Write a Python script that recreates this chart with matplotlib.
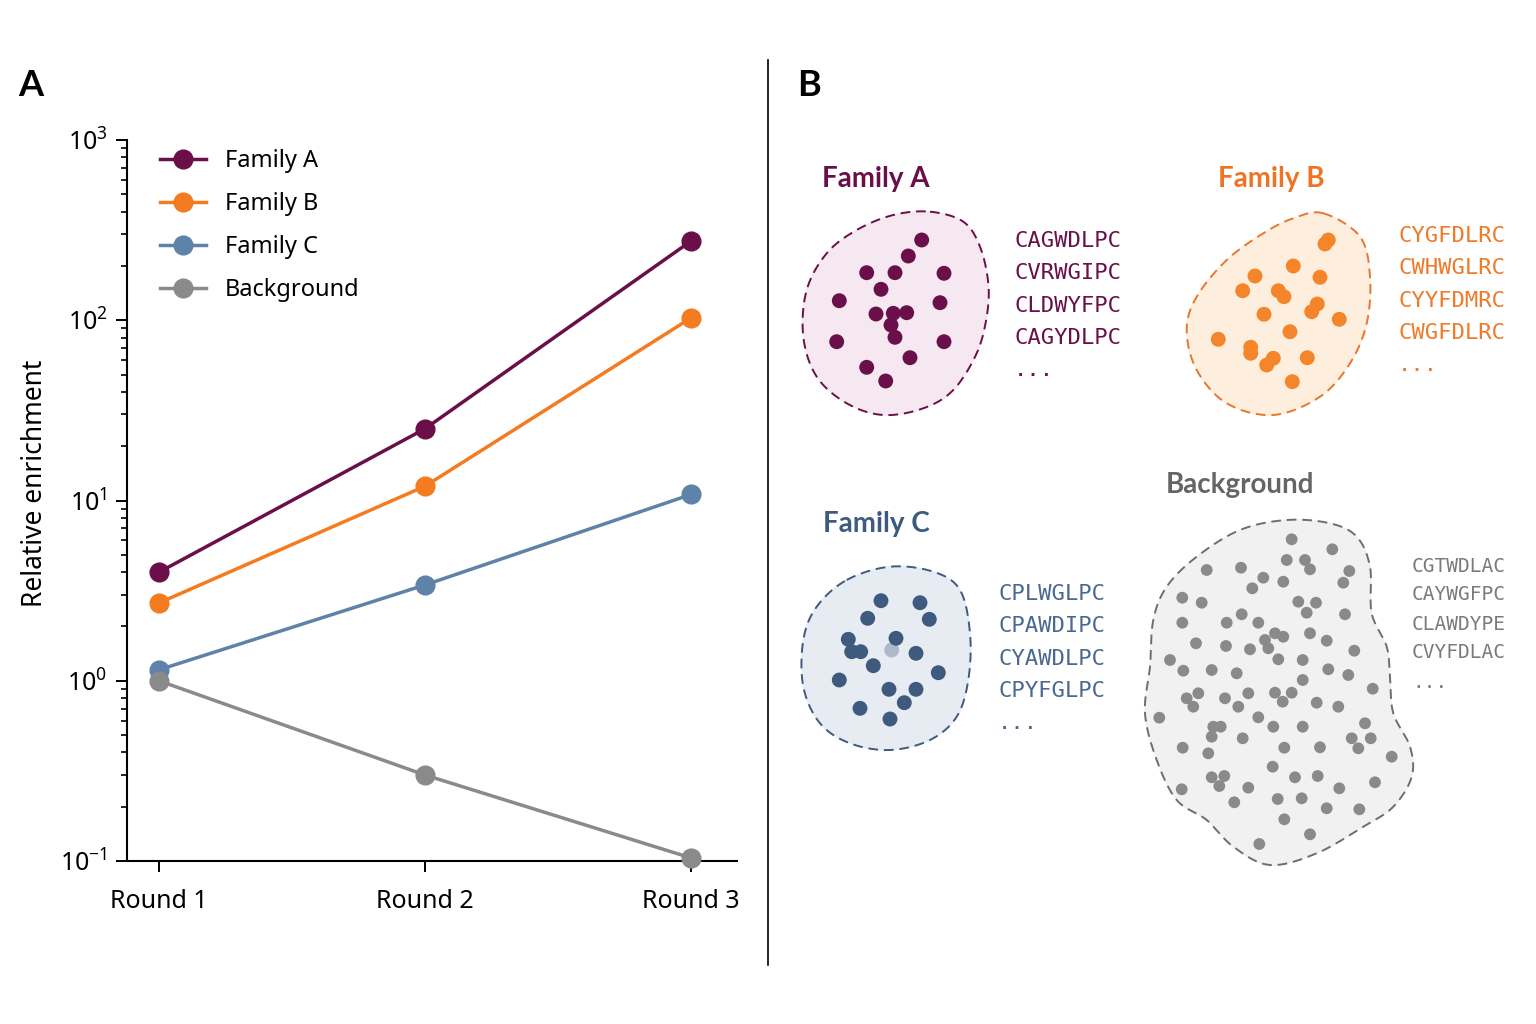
import numpy as np
import matplotlib
matplotlib.use("Agg")
import matplotlib.pyplot as plt
from matplotlib.lines import Line2D

plt.rcParams['font.family'] = ['Noto Sans', 'DejaVu Sans']
plt.rcParams['mathtext.fontset'] = 'custom'
plt.rcParams['mathtext.rm'] = 'Noto Sans'
plt.rcParams['mathtext.it'] = 'Noto Sans'
BOLD_FAMILY = ['Lato', 'DejaVu Sans']

# ---------------- Panel A data ----------------
rounds = ["Round 1", "Round 2", "Round 3"]
series_names = ["Family A", "Family B", "Family C", "Background"]
family_a = [4.0, 25.0, 275.0]
family_b = [2.7, 12.0, 103.0]
family_c = [1.15, 3.4, 10.8]
background = [1.0, 0.30, 0.104]

col_a = '#6a0f49'
col_b = '#f47b20'
col_c = '#5f82a8'
col_bg = '#8a8a8a'

# ---------------- Panel B data (positions in panel pixel space) ----------------
seqs_a = ["CAGWDLPC", "CVRWGIPC", "CLDWYFPC", "CAGYDLPC", "..."]
seqs_b = ["CYGFDLRC", "CWHWGLRC", "CYYFDMRC", "CWGFDLRC", "..."]
seqs_c = ["CPLWGLPC", "CPAWDIPC", "CYAWDLPC", "CPYFGLPC", "..."]
seqs_bg = ["CGTWDLAC", "CAYWGFPC", "CLAWDYPE", "CVYFDLAC", "..."]

dots_a_x = [921.7, 908.3, 866.7, 895, 944, 881, 839.3, 940, 876, 893.3, 906.7, 891, 895, 836.7, 944, 910, 866.7, 885.7]
dots_a_y = [240, 256, 272.7, 272.7, 273.3, 289.3, 300.7, 302.7, 314, 313.3, 312.7, 325, 337.3, 341.7, 341.7, 357.7, 367.3, 381]

dots_b_x = [1328.3, 1325, 1293.3, 1255, 1320, 1242.7, 1278.3, 1284, 1317.3, 1311.7, 1264, 1339.3, 1290, 1218.3, 1250.7, 1250.7, 1273.3, 1266.7, 1307.3, 1292.3]
dots_b_y = [240, 244, 266, 276, 277.3, 290.7, 290.7, 296.7, 304, 311.7, 314.3, 319.3, 331.7, 339.3, 347.3, 353.3, 358.3, 365, 357.7, 381.7]

dots_c_x = [881, 920, 867.7, 929.3, 848.3, 896, 851.7, 860.7, 916, 873.3, 938.3, 839.3, 889, 916, 904.3, 860, 890]
dots_c_y = [600.7, 602.7, 618.3, 619.3, 639.3, 638.3, 651.7, 651.7, 653.3, 665.7, 672.7, 680, 689.3, 689.3, 702.7, 708.3, 719]
faint_c_x = [891.7]
faint_c_y = [650]

dots_bg_x = [1291.7, 1332.3, 1286.7, 1305, 1310, 1349.3, 1343.3, 1206.7, 1241, 1263.3, 1252.3, 1283.3,
             1182.3, 1201.7, 1298.3, 1306.7, 1316, 1241.7, 1226.7, 1258.3, 1345, 1182.3, 1275, 1283.3,
             1265, 1268.3, 1310, 1326.7, 1196, 1226, 1250, 1354.3, 1170, 1183.3, 1211.7, 1236.7,
             1278.3, 1302.7, 1328.3, 1348.3, 1302.7, 1372.7, 1186.7, 1198.3, 1193.3, 1225, 1248.3,
             1238.3, 1275, 1282.7, 1291.7, 1316.7, 1338.3, 1159.3, 1213.3, 1220.7, 1211.7, 1258.3,
             1273.3, 1302.7, 1365, 1351.7, 1358.3, 1370.7, 1242.7, 1182.7, 1208.3, 1284.3, 1320,
             1391.7, 1272.7, 1211.7, 1224.3, 1219.3, 1295, 1317.7, 1181.7, 1248.3, 1339.3, 1375,
             1234.3, 1277.7, 1301.7, 1326.7, 1359.3, 1284.3, 1310, 1259.3]
dots_bg_y = [539.3, 549.3, 560, 560, 569.3, 571, 582.7, 570, 567.7, 577.7, 588.3, 581.7,
             597.7, 602.7, 601.7, 612.7, 602.7, 614.3, 622.7, 622.7, 614.3, 622.7, 633.3, 636.7,
             640, 648.3, 633.3, 640.7, 643.3, 646, 649.3, 650.7, 660, 670.7, 670, 673.3,
             659.3, 660, 669.3, 675, 680, 688.7, 698.3, 693.3, 706.7, 698.3, 693.3,
             706.7, 692.7, 701.7, 692.7, 702.7, 706.7, 717.7, 726.7, 726.7, 736.7, 717.3,
             726.7, 726.7, 723.3, 738.3, 748.3, 738.3, 738.3, 747.7, 753.3, 747.7, 747.3,
             756.7, 766.7, 777.3, 776, 786, 777.3, 776, 789.3, 787.7, 788.3, 782.3,
             802.3, 799, 798.3, 808.3, 809.3, 819.3, 834.3, 844]

blob_a_x = [930, 963.3, 980, 988.3, 986.7, 976.7, 953.3, 923.3, 883.3, 846.7, 816.7, 803.3, 806.7, 826.7, 856.7, 893.3]
blob_a_y = [211.7, 221.7, 246.7, 283.3, 316.7, 353.3, 390, 408.3, 415, 403.3, 376.7, 336.7, 290, 253.3, 230, 215]
blob_b_x = [1323.3, 1360, 1370, 1366.7, 1350, 1320, 1273.3, 1226.7, 1196.7, 1186.7, 1196.7, 1226.7, 1263.3, 1293.3]
blob_b_y = [213.3, 236.7, 276.7, 323.3, 363.3, 396.7, 415, 403.3, 370, 330, 296.7, 260, 233.3, 218.3]
blob_c_x = [846.7, 890, 933.3, 960, 970, 968.3, 956.7, 930, 890, 850, 820, 803.3, 803.3, 816.7]
blob_c_y = [580, 566.7, 571.7, 590, 633.3, 680, 716.7, 740, 750, 743.3, 723.3, 686.7, 640, 606.7]
blob_bg_x = [1286.7, 1330, 1356.7, 1370, 1371.7, 1386.7, 1390, 1393.3, 1410, 1411.7, 1393.3, 1363.3,
             1316.7, 1270, 1233.3, 1206.7, 1176.7, 1156.7, 1145, 1150, 1153.3, 1166.7, 1196.7, 1240]
blob_bg_y = [520, 523.3, 536.7, 566.7, 613.3, 646.7, 676.7, 713.3, 746.7, 776.7, 806.7, 826.7,
             853.3, 865, 846.7, 820, 800, 760, 713.3, 666.7, 620, 586.7, 556.7, 530]

W, H = 1536, 1024
fig = plt.figure(figsize=(W / 100, H / 100), dpi=100)
fig.patch.set_facecolor('white')

# ---------------- Panel A ----------------
axA = fig.add_axes([127 / W, 1 - 861 / H, (737 - 127) / W, (861 - 140) / H])
xs = np.arange(len(rounds))
for vals, col, name in [(family_a, col_a, series_names[0]), (family_b, col_b, series_names[1]),
                        (family_c, col_c, series_names[2]), (background, col_bg, series_names[3])]:
    axA.plot(xs, vals, '-o', color=col, lw=2.5, ms=13.5, label=name, clip_on=False, zorder=3)
axA.set_yscale('log')
axA.set_ylim(0.1, 1000)
axA.set_xlim(-0.12, 2.173)
axA.set_xticks(xs)
axA.set_xticklabels(rounds)
axA.spines['top'].set_visible(False)
axA.spines['right'].set_visible(False)
for s in ['left', 'bottom']:
    axA.spines[s].set_linewidth(1.5)
axA.tick_params(axis='both', which='major', labelsize=18, length=8, width=1.4, direction='out', pad=6)
axA.tick_params(axis='x', which='major', pad=12)
axA.tick_params(axis='y', which='minor', length=4, width=1.2)
axA.set_ylabel("Relative enrichment", fontsize=19, labelpad=10)
axA.yaxis.set_label_coords(-0.128, 0.524)
leg = axA.legend(loc='upper left', bbox_to_anchor=(0.038, 1.0), frameon=False, fontsize=17,
                 handlelength=1.95, handletextpad=0.8, labelspacing=0.8, borderaxespad=0)

# ---------------- Panel labels & divider ----------------
fig.text(18 / W, 1 - 85 / H, "A", fontsize=26, fontweight='bold', family=BOLD_FAMILY, va='center', ha='left')
fig.text(797 / W, 1 - 85 / H, "B", fontsize=26, fontweight='bold', family=BOLD_FAMILY, va='center', ha='left')
fig.add_artist(Line2D([768 / W, 768 / W], [1 - 60 / H, 1 - 965 / H], color='black', lw=1.2))

# ---------------- Panel B ----------------
axB = fig.add_axes([770 / W, 0, (W - 770) / W, 1])
axB.set_xlim(770, W)
axB.set_ylim(H, 0)
axB.axis('off')


def closed_spline(px, py, n=30):
    px = np.asarray(px, float)
    py = np.asarray(py, float)
    m = len(px)
    outx, outy = [], []
    t = np.linspace(0, 1, n, endpoint=False)
    for i in range(m):
        p0 = np.array([px[(i - 1) % m], py[(i - 1) % m]])
        p1 = np.array([px[i], py[i]])
        p2 = np.array([px[(i + 1) % m], py[(i + 1) % m]])
        p3 = np.array([px[(i + 2) % m], py[(i + 2) % m]])
        for tt in t:
            pt = 0.5 * ((2 * p1) + (-p0 + p2) * tt + (2 * p0 - 5 * p1 + 4 * p2 - p3) * tt ** 2
                        + (-p0 + 3 * p1 - 3 * p2 + p3) * tt ** 3)
            outx.append(pt[0])
            outy.append(pt[1])
    outx.append(outx[0])
    outy.append(outy[0])
    return np.array(outx), np.array(outy)


clusters = [
    dict(bx=blob_a_x, by=blob_a_y, fill='#f5e8f0', edge=col_a, dx=dots_a_x, dy=dots_a_y, dcol=col_a, ds=115,
         title="Family A", tx=822, ty=179, tcol=col_a, seqs=seqs_a, sx=1014, sy0=241, scol=col_a),
    dict(bx=blob_b_x, by=blob_b_y, fill='#fdeedd', edge='#e5782e', dx=dots_b_x, dy=dots_b_y, dcol='#f5852a', ds=115,
         title="Family B", tx=1218, ty=179, tcol='#ee7424', seqs=seqs_b, sx=1398, sy0=236, scol='#ee7a2a'),
    dict(bx=blob_c_x, by=blob_c_y, fill='#e7ecf3', edge='#3f5a80', dx=dots_c_x, dy=dots_c_y, dcol='#3f5a7f', ds=115,
         title="Family C", tx=823, ty=524, tcol='#3d5a80', seqs=seqs_c, sx=998, sy0=594, scol='#4a6890'),
    dict(bx=blob_bg_x, by=blob_bg_y, fill='#f1f1f1', edge='#6e6e6e', dx=dots_bg_x, dy=dots_bg_y, dcol='#8a8a8a', ds=72,
         title="Background", tx=1166, ty=485, tcol='#656565', seqs=seqs_bg, sx=1412, sy0=566, scol='#7a7a7a'),
]

for c in clusters:
    sx_, sy_ = closed_spline(c['bx'], c['by'])
    axB.fill(sx_, sy_, color=c['fill'], zorder=1)
    axB.plot(sx_, sy_, color=c['edge'], lw=1.4, ls=(0, (5, 3)), zorder=2)
    axB.scatter(c['dx'], c['dy'], s=c['ds'], color=c['dcol'], edgecolors='none', zorder=3)
    axB.text(c['tx'], c['ty'], c['title'], fontsize=20, fontweight='bold', family=BOLD_FAMILY,
             color=c['tcol'], ha='left', va='center')
    is_bg = c['title'] == "Background"
    step = 29 if is_bg else 32.3
    for k, s in enumerate(c['seqs']):
        axB.text(c['sx'], c['sy0'] + k * step, s, fontsize=14 if is_bg else 16,
                 family='DejaVu Sans Mono', color=c['scol'], ha='left', va='center')

axB.scatter(faint_c_x, faint_c_y, s=115, color='#3f5a7f', alpha=0.35, edgecolors='none', zorder=3)

fig.savefig("out.png", dpi=100, facecolor='white')
